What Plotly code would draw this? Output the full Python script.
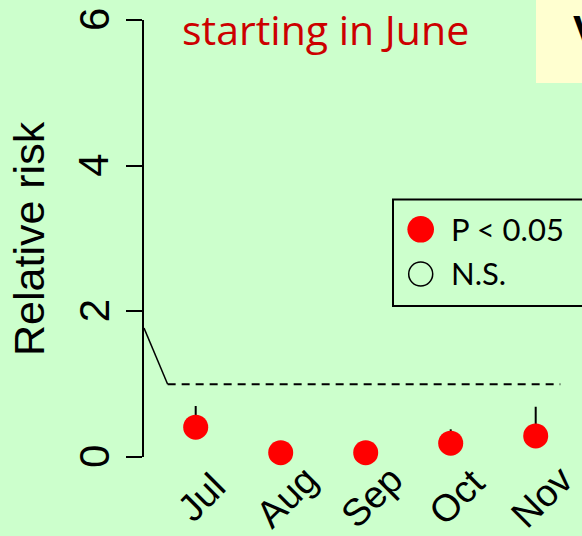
import plotly.graph_objects as go

# Monthly relative risk estimates (start of exposure: June)
months = ["Jul", "Aug", "Sep", "Oct", "Nov"]
month_pos = [7, 8, 9, 10, 11]
rr = [0.41, 0.06, 0.06, 0.19, 0.29]
rr_upper = [0.70, 0.06, 0.06, 0.38, 0.69]
rr_lower = [0.25, 0.06, 0.06, 0.15, 0.20]
significant = [True, True, True, True, True]

# Reference curve: decline to the null value, then the RR = 1 line
ref_x = [6.392, 6.67]
ref_y = [1.77, 1.0]
null_x = [6.67, 11.29]
null_y = [1.0, 1.0]

y_ticks = [0, 2, 4, 6]

W, H = 582, 536
L, R, T, B = 144, 0, 20, 79
PW, PH = W - L - R, H - T - B


def xp(px):
    return (px - L) / PW


def yp(py):
    return (H - B - py) / PH


BG = "#CCFFCC"
ARIAL = "Liberation Sans, Arial, sans-serif"
CAL = "Lato, Carlito, Calibri, sans-serif"
TITLE_FONT = "Open Sans, Carlito, Calibri, sans-serif"

fig = go.Figure()

fig.add_trace(go.Scatter(
    x=ref_x, y=ref_y, mode="lines",
    line=dict(color="black", width=1.5), hoverinfo="skip", showlegend=False,
))
fig.add_trace(go.Scatter(
    x=null_x, y=null_y, mode="lines",
    line=dict(color="black", width=2, dash="8px,6px"),
    hoverinfo="skip", showlegend=False,
))

err_plus = [u - v for u, v in zip(rr_upper, rr)]
err_minus = [v - lo for v, lo in zip(rr, rr_lower)]
fig.add_trace(go.Scatter(
    x=month_pos, y=rr, mode="markers",
    marker=dict(size=25,
                color=["#FF0000" if s else "rgba(0,0,0,0)" for s in significant],
                line=dict(width=0)),
    error_y=dict(type="data", array=err_plus, arrayminus=err_minus,
                 color="black", thickness=2, width=0),
    cliponaxis=False, showlegend=False,
))

annotations = []
# Month labels, drawn diagonally beneath each estimate
for pos, lab in zip(month_pos, months):
    annotations.append(dict(
        x=pos, xref="x", y=yp(497), yref="paper", text=lab,
        showarrow=False, textangle=-45, xshift=6,
        font=dict(family=ARIAL, size=38, color="black"),
        xanchor="center", yanchor="middle",
    ))
# Y tick labels, written along the axis
for v in y_ticks:
    annotations.append(dict(
        x=xp(94), xref="paper", y=v, yref="y", text=str(v),
        showarrow=False, textangle=-90,
        font=dict(family=ARIAL, size=42, color="black"),
        xanchor="center", yanchor="middle",
    ))

annotations += [
    dict(x=xp(28.5), y=0.5, xref="paper", yref="paper", text="Relative risk",
         showarrow=False, textangle=-90, xanchor="center", yanchor="middle",
         font=dict(family=ARIAL, size=43, color="black")),
    dict(x=xp(325), y=yp(0), xref="paper", yref="paper", text="starting in June",
         showarrow=False, xanchor="center", yanchor="top", borderpad=0,
         font=dict(family=TITLE_FONT, size=41, color="#CC0000")),
    dict(x=xp(449), y=yp(229), xref="paper", yref="paper", text="P < 0.05",
         showarrow=False, xanchor="left", yanchor="middle",
         font=dict(family=CAL, size=31, color="black")),
    dict(x=xp(449), y=yp(273), xref="paper", yref="paper", text="N.S.",
         showarrow=False, xanchor="left", yanchor="middle",
         font=dict(family=CAL, size=31, color="black")),
    dict(x=xp(571), y=yp(30), xref="paper", yref="paper", text="<b>V</b>",
         showarrow=False, xanchor="left", yanchor="middle",
         font=dict(family=ARIAL, size=42, color="black")),
]

shapes = [
    # highlighted box in the upper right corner
    dict(type="rect", xref="paper", yref="paper", layer="above",
         x0=xp(536), x1=xp(600), y0=yp(83), y1=yp(-10),
         fillcolor="#FFFFD0", line=dict(width=0)),
    # legend frame
    dict(type="rect", xref="paper", yref="paper", layer="above",
         x0=xp(393), x1=xp(600), y0=yp(306), y1=yp(199.5),
         fillcolor="rgba(0,0,0,0)", line=dict(color="black", width=2)),
    dict(type="circle", xref="paper", yref="paper", layer="above",
         x0=xp(420.7 - 13.3), x1=xp(420.7 + 13.3),
         y0=yp(229.3 + 13.3), y1=yp(229.3 - 13.3),
         fillcolor="#FF0000", line=dict(width=0)),
    dict(type="circle", xref="paper", yref="paper", layer="above",
         x0=xp(420.7 - 12), x1=xp(420.7 + 12),
         y0=yp(274 + 12), y1=yp(274 - 12),
         fillcolor="rgba(0,0,0,0)", line=dict(color="black", width=1.5)),
]

fig.update_layout(
    width=W, height=H,
    margin=dict(l=L, r=R, t=T, b=B, pad=0),
    paper_bgcolor=BG, plot_bgcolor=BG,
    showlegend=False,
    annotations=annotations, shapes=shapes,
    xaxis=dict(range=[6.3918, 11.5447], showgrid=False, zeroline=False,
               showline=False, showticklabels=False, ticks=""),
    yaxis=dict(range=[0, 6], tickvals=y_ticks, showticklabels=False,
               showgrid=False, zeroline=False,
               showline=True, linecolor="black", linewidth=2,
               ticks="outside", ticklen=16, tickwidth=2, tickcolor="black"),
)

fig.write_html("out.html")
